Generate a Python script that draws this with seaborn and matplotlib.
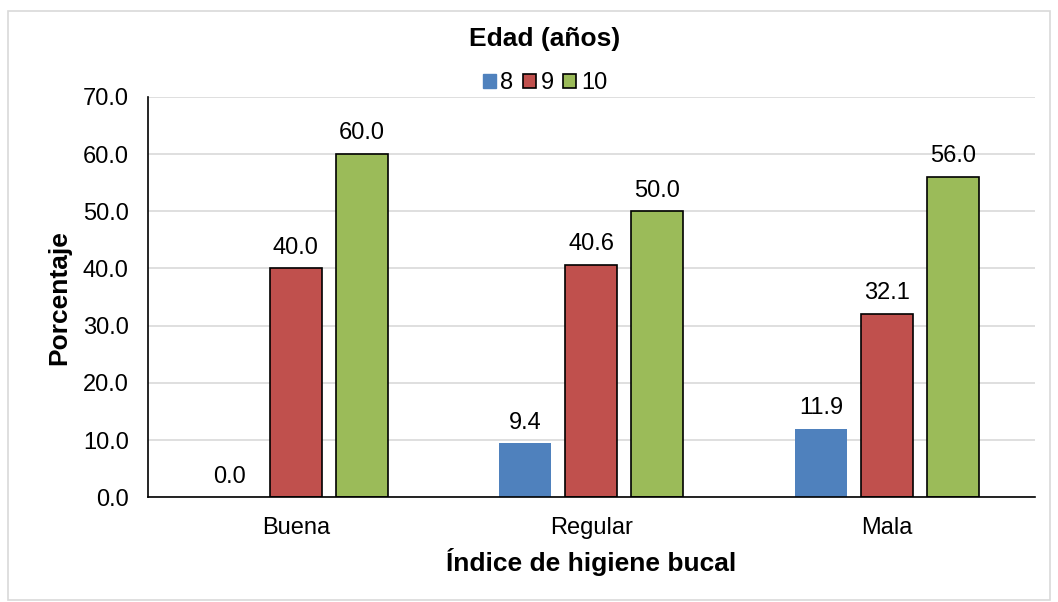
import matplotlib
matplotlib.use("Agg")
import matplotlib.pyplot as plt
import seaborn as sns
import pandas as pd
from matplotlib.patches import Rectangle

# Data
categorias = ["Buena", "Regular", "Mala"]
edades = ["8", "9", "10"]
edad_8 = [0.0, 9.4, 11.9]
edad_9 = [40.0, 40.6, 32.1]
edad_10 = [60.0, 50.0, 56.0]
colores = ["#4F81BD", "#C0504D", "#9BBB59"]

df = pd.DataFrame({
    "indice": categorias * 3,
    "edad": [e for e in edades for _ in categorias],
    "pct": edad_8 + edad_9 + edad_10,
})

sns.set_theme(style="white")
plt.rcParams["font.family"] = ["Liberation Sans", "DejaVu Sans"]
plt.rcParams["text.color"] = "black"
plt.rcParams["xtick.color"] = "black"
plt.rcParams["ytick.color"] = "black"
plt.rcParams["axes.labelcolor"] = "black"

fig = plt.figure(figsize=(10.58, 6.02), dpi=100)
ax = fig.add_axes([0.140, 0.174, 0.838, 0.665])

sns.barplot(data=df, x="indice", y="pct", hue="edad", order=categorias,
            hue_order=edades, palette=colores, saturation=1, width=0.67, gap=0.21,
            edgecolor="black", linewidth=1.2, ax=ax, legend=False)

# blue bars have no outline
for bar in ax.containers[0]:
    bar.set_linewidth(0)

for cont in ax.containers:
    ax.bar_label(cont, fmt="%.1f", padding=7, fontsize=17)

ax.set_ylim(0, 70)
ax.set_yticks(range(0, 71, 10))
ax.set_yticklabels([f"{v:.1f}" for v in range(0, 71, 10)], fontsize=17)
ax.tick_params(axis="x", labelsize=17, pad=8)
ax.tick_params(axis="y", pad=8)
ax.yaxis.grid(True, color="#D9D9D9", linewidth=1.2)
ax.set_axisbelow(True)
for s in ["top", "right"]:
    ax.spines[s].set_visible(False)
for s in ["left", "bottom"]:
    ax.spines[s].set_color("black")
    ax.spines[s].set_linewidth(1.2)

ax.set_xlabel("Índice de higiene bucal", fontsize=19, fontweight="bold", labelpad=7)
ax.set_ylabel("Porcentaje", fontsize=19, fontweight="bold", labelpad=8)

# legend
handles = [Rectangle((0, 0), 1, 1, facecolor=colores[0], edgecolor=colores[0])]
handles += [Rectangle((0, 0), 1, 1, facecolor=c, edgecolor="black", linewidth=1.2) for c in colores[1:]]
fig.legend(handles, edades, loc="center", bbox_to_anchor=(0.515, 0.862), ncol=3,
           frameon=False, fontsize=17, handlelength=0.55, handleheight=0.55,
           handletextpad=0.2, columnspacing=0.4)

fig.text(0.515, 0.935, "Edad (años)", ha="center", va="center", fontsize=19, fontweight="bold")

fig.patches.append(Rectangle((0.008, 0.004), 0.984, 0.978, transform=fig.transFigure,
                             fill=False, edgecolor="#D9D9D9", linewidth=1.2))

fig.savefig("out.png", dpi=100)
